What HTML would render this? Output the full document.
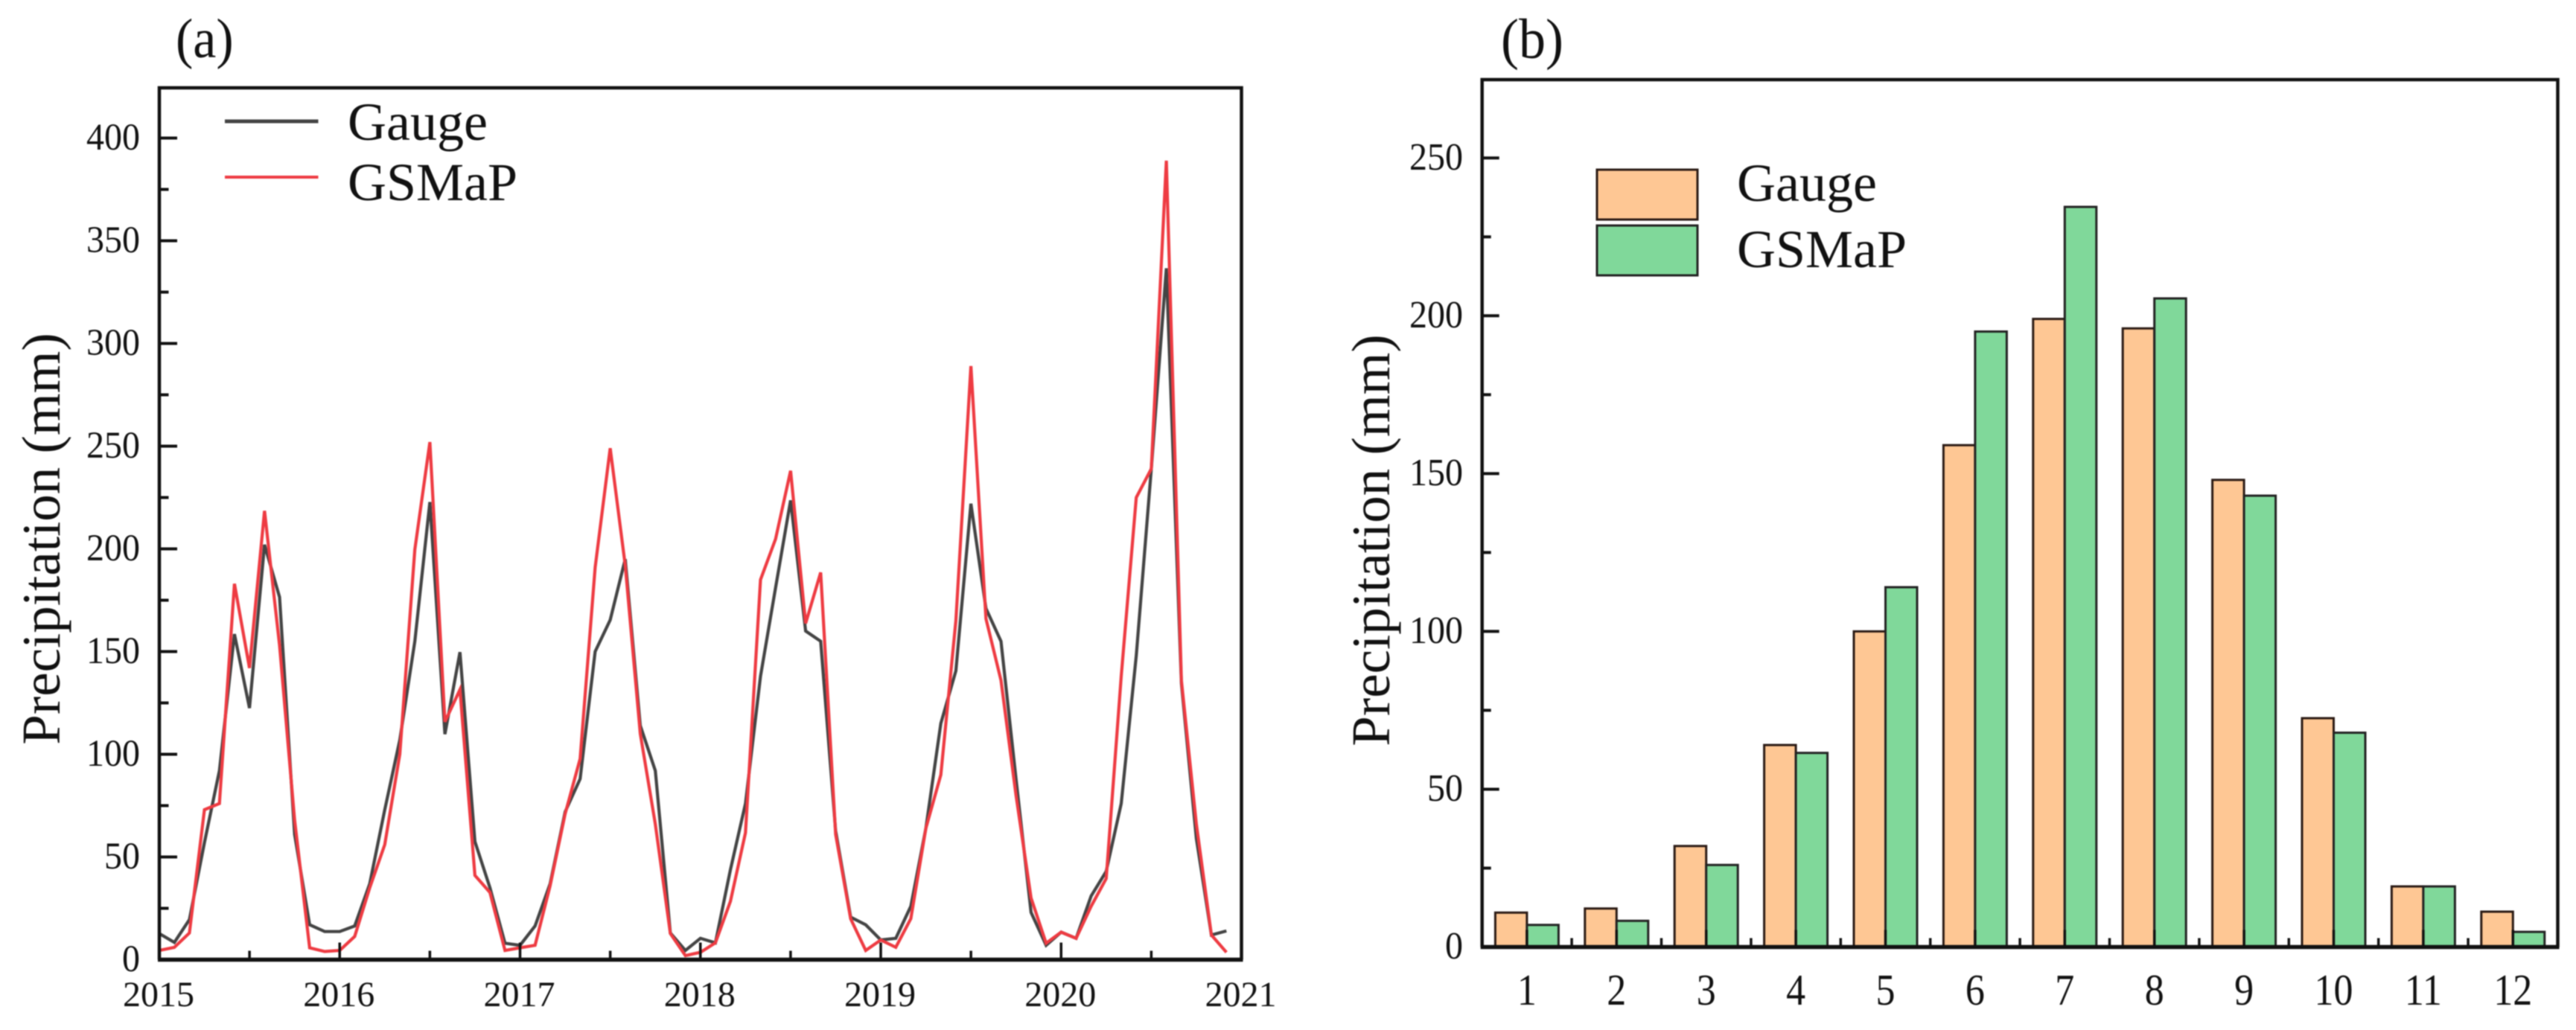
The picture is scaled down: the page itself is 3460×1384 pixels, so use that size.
<!DOCTYPE html>
<html lang="en">
<head>
<meta charset="utf-8">
<title>Precipitation: Gauge vs GSMaP</title>
<style>
html,body{margin:0;padding:0;background:#fff;}
body{width:3460px;height:1384px;overflow:hidden;}
svg{display:block;filter:blur(0.7px);}
text{font-family:"Liberation Serif","Times New Roman",serif;fill:#111;}
</style>
</head>
<body>
<svg id="figure" xmlns="http://www.w3.org/2000/svg" width="3460" height="1384" viewBox="0 0 3460 1384">
  <rect x="0" y="0" width="3460" height="1384" fill="#fff"/>
  <g id="panel-a"></g>
  <g id="panel-b"></g>
</svg>
<script>
// Panel (a): monthly precipitation, Jan 2015 - Dec 2020
const gaugeMonthly = [
  12.7,8.4,19.5,57,92,158.5,122.5,202,176.5,61,17,13.7,
  13.7,16.4,37,73,107,155,222.8,109.8,149.7,57.5,35,8,
  7,16.4,37,72,88,150,165.4,195,114,92,13,4.5,
  10.4,8.2,43.8,76,138,181,223.6,160,155,62.7,20.7,17,
  9.6,10.4,26,64,115,140.6,222,171,155,88,23,7,
  13.4,10.4,31,43,76,148,239,336.6,134.6,59,12,14
];
const gsmapMonthly = [
  4.5,6,13,73,76,183,142,218.5,153,68,5.8,4,
  4.5,11.3,35,56,100,199.7,252,115.8,131.5,41,32.7,4.5,
  5.8,7,36,71,97.8,191,249,192,110,66,12.7,2,
  3.6,8.2,28.4,61.8,185,204.8,238,163.7,188.5,61,19.9,4.5,
  9.6,6,20,64,90,165,289,166,136,80,30,8,
  13.4,10.4,26,39.5,138,225,239,389,136,66,12,3.6
];
const yearTicksA = [2015,2016,2017,2018,2019,2020,2021];
const yTicksA = [0,50,100,150,200,250,300,350,400];

// Panel (b): mean monthly precipitation
const monthCategories = [1,2,3,4,5,6,7,8,9,10,11,12];
const gaugeClimatology = [10.9,12.2,32,64,100,159,199,196,148,72.5,19.2,11.2];
const gsmapClimatology = [7,8.3,26,61.5,114,195,234.5,205.5,143,67.9,19.2,4.8];
const yTicksB = [0,50,100,150,200,250];

const NS = 'http://www.w3.org/2000/svg';
function make(parent, tag, attrs, txt) {
  const el = document.createElementNS(NS, tag);
  for (const k in attrs) el.setAttribute(k, attrs[k]);
  if (txt !== undefined) el.textContent = txt;
  parent.appendChild(el);
  return el;
}
function stretchedText(parent, x, y, size, sy, anchor, txt) {
  return make(parent, 'text', {
    transform: 'translate(' + x + ',' + y + ') scale(1,' + sy + ')',
    'font-size': size, 'text-anchor': anchor
  }, txt);
}
const INK = '#111';

/* ---------- Panel (a) ---------- */
const A = document.getElementById('panel-a');
const aL = 214, aR = 1667.5, aT = 118, aB = 1289.5;
const xA = yr => aL + (yr - 2015) * (aR - aL) / 6;
const xAMonth = i => xA(2015 + i / 12);
const yA = v => aB - v * 2.76;

function linePath(values) {
  return values.map((v, i) => (i ? 'L' : 'M') + xAMonth(i).toFixed(1) + ' ' + yA(v).toFixed(1)).join(' ');
}
const gaugeLine = make(A, 'path', {d: linePath(gaugeMonthly), fill: 'none', stroke: '#444', 'stroke-width': 4.2});


const gsmapLine = make(A, 'path', {d: linePath(gsmapMonthly), fill: 'none', stroke: '#ee3b42', 'stroke-width': 4.2});



const frameA = make(A, 'path', {d: 'M' + aL + ' ' + aB + ' V' + aT + ' H' + aR + ' V' + aB, fill: 'none', stroke: INK, 'stroke-width': 4.5});


const xAxisA = make(A, 'line', {x1: aL - 2, x2: aR + 2, y1: aB, y2: aB, stroke: INK, 'stroke-width': 5.5});



yTicksA.forEach((v, i) => {
  const t = make(A, 'line', {x1: aL, x2: aL + 24, y1: yA(v), y2: yA(v), stroke: INK, 'stroke-width': 4});
  
  
  if (i < yTicksA.length - 1) {
    const m = make(A, 'line', {x1: aL, x2: aL + 12.5, y1: yA(v + 25), y2: yA(v + 25), stroke: INK, 'stroke-width': 4});
    
    
  }
  const l = stretchedText(A, 188, yA(v) + 15.5, 48, 1.05, 'end', String(v));
  
  
});
yearTicksA.forEach((yr, i) => {
  const t = make(A, 'line', {x1: xA(yr), x2: xA(yr), y1: aB, y2: aB - 23, stroke: INK, 'stroke-width': 3.5});
  
  
  if (i < yearTicksA.length - 1) {
    const m = make(A, 'line', {x1: xA(yr + 0.5), x2: xA(yr + 0.5), y1: aB, y2: aB - 12, stroke: INK, 'stroke-width': 3.5});
    
    
  }
  const l = make(A, 'text', {x: xA(yr) - 1, y: 1352, 'font-size': 48, 'text-anchor': 'middle'}, String(yr));
  
  
});

const titleA = make(A, 'text', {transform: 'translate(80,724) rotate(-90)', 'font-size': 73, 'text-anchor': 'middle'}, 'Precipitation (mm)');


const tagA = stretchedText(A, 236, 77, 70, 1.08, 'start', '(a)');



const legLineG = make(A, 'line', {x1: 302, x2: 427.5, y1: 163, y2: 163, stroke: '#444', 'stroke-width': 5});


const legTextG = make(A, 'text', {x: 467, y: 188, 'font-size': 72}, 'Gauge');


const legLineS = make(A, 'line', {x1: 302, x2: 427.5, y1: 238, y2: 238, stroke: '#ee3b42', 'stroke-width': 4});


const legTextS = make(A, 'text', {x: 467, y: 269, 'font-size': 72}, 'GSMaP');



/* ---------- Panel (b) ---------- */
const B = document.getElementById('panel-b');
const bL = 1990.7, bR = 3435.5, bT = 107, bB = 1272.5;
const xB = m => bL + (m - 0.5) * (bR - bL) / 12;
const yB = v => bB - v * 4.241;
const barW = 42.5;
const GAUGE_FILL = '#fec794', GSMAP_FILL = '#80d89a', BAR_EDGE = '#222';

monthCategories.forEach((m, i) => {
  const g = make(B, 'rect', {x: xB(m) - barW, y: yB(gaugeClimatology[i]), width: barW, height: bB - yB(gaugeClimatology[i]), fill: GAUGE_FILL, stroke: '#2a1a14', 'stroke-width': 3});
  
  
  const s = make(B, 'rect', {x: xB(m), y: yB(gsmapClimatology[i]), width: barW, height: bB - yB(gsmapClimatology[i]), fill: GSMAP_FILL, stroke: BAR_EDGE, 'stroke-width': 3});
  
  
});

const frameB = make(B, 'path', {d: 'M' + bL + ' ' + bB + ' V' + bT + ' H' + bR + ' V' + bB, fill: 'none', stroke: INK, 'stroke-width': 4.5});


const xAxisB = make(B, 'line', {x1: bL - 2, x2: bR + 2, y1: bB, y2: bB, stroke: INK, 'stroke-width': 5.5});



yTicksB.forEach(v => {
  const t = make(B, 'line', {x1: bL, x2: bL + 23, y1: yB(v), y2: yB(v), stroke: INK, 'stroke-width': 4});
  
  
  if (v < yTicksB[yTicksB.length - 1]) {
    const m = make(B, 'line', {x1: bL, x2: bL + 12, y1: yB(v + 25), y2: yB(v + 25), stroke: INK, 'stroke-width': 4});
    
    
  }
  const l = stretchedText(B, 1965, yB(v) + 15.5, 48, 1.08, 'end', String(v));
  
  
});
monthCategories.forEach((m, i) => {
  const t = make(B, 'line', {x1: xB(m), x2: xB(m), y1: bB, y2: bB - 23, stroke: INK, 'stroke-width': 3.5});
  
  
  if (i < monthCategories.length - 1) {
    const n = make(B, 'line', {x1: xB(m + 0.5), x2: xB(m + 0.5), y1: bB, y2: bB - 12, stroke: INK, 'stroke-width': 3.5});
    
    
  }
  const l = stretchedText(B, xB(m), 1350, 52, 1.15, 'middle', String(m));
  
  
});

const titleB = make(B, 'text', {transform: 'translate(1866,726) rotate(-90)', 'font-size': 73, 'text-anchor': 'middle'}, 'Precipitation (mm)');


const tagB = stretchedText(B, 2016, 78, 72, 1.06, 'start', '(b)');



const swG = make(B, 'rect', {x: 2145, y: 228, width: 135, height: 67, fill: GAUGE_FILL, stroke: '#2a1a14', 'stroke-width': 3});


const swS = make(B, 'rect', {x: 2145, y: 303, width: 135, height: 67, fill: GSMAP_FILL, stroke: BAR_EDGE, 'stroke-width': 3});


const lbG = make(B, 'text', {x: 2333, y: 270, 'font-size': 72}, 'Gauge');


const lbS = make(B, 'text', {x: 2333, y: 359, 'font-size': 72}, 'GSMaP');


</script>
</body>
</html>
